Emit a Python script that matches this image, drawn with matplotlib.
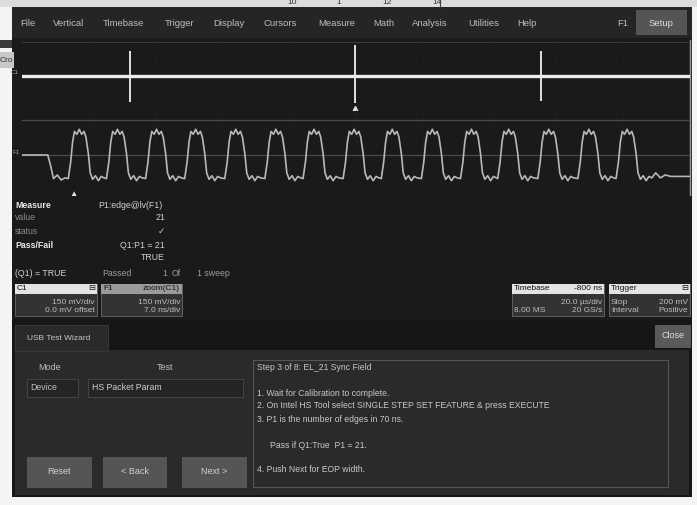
import matplotlib
matplotlib.use("Agg")
import matplotlib.pyplot as plt
from matplotlib.patches import Rectangle

plt.rcParams['font.family'] = ['Liberation Sans', 'DejaVu Sans']

#-------------------------------------------------------------------------------
# data
menu_items = ["File", "Vertical", "Timebase", "Trigger", "Display", "Cursors",
              "Measure", "Math", "Analysis", "Utilities", "Help"]

# C1: trace in divisions, spikes (glitches) at these times
c1_time_div   = [0.0, 10.0]
c1_level_div  = [0.0, 0.0]
c1_spike_div  = [1.62, 4.98, 7.77]
c1_spike_top  = [2.9, 3.6, 2.9]
c1_spike_bot  = [-3.1, -3.2, -2.9]

# F1 zoom(C1): USB HS sync field, time in ns, amplitude in mV
f1_lead   = [(0.0, 0), (2.7, 0), (3.0, -150), (3.3, -330), (3.7, -280),
             (4.1, -350), (4.5, -320)]
f1_pulse_centers = [6.1, 10.1, 14.2, 18.3, 22.5, 26.7, 30.7, 34.9, 38.9,
                    43.1, 47.2, 51.1, 55.3, 59.5, 63.5]
f1_pulse_shape = [(-1.25, -330), (-1.0, -100), (-0.8, 180), (-0.6, 330),
                  (-0.35, 290), (-0.1, 360), (0.15, 290), (0.4, 330),
                  (0.6, 250), (0.85, 20), (1.05, -250), (1.3, -340),
                  (1.6, -290), (1.9, -360), (2.2, -300), (2.5, -320)]
f1_tail   = [(66.4, -250), (66.9, -320), (67.4, -280), (68.0, -300), (70.0, -300)]

measure_rows = [("Measure", "P1:edge@lv(F1)"), ("value", "21"), ("status", "\u2713"),
                ("Pass/Fail", "Q1:P1 = 21"), ("", "TRUE")]
step_lines = ["Step 3 of 8: EL_21 Sync Field",
              "1. Wait for Calibration to complete.",
              "2. On Intel HS Tool select SINGLE STEP SET FEATURE & press EXECUTE",
              "3. P1 is the number of edges in 70 ns.",
              "Pass if Q1:True  P1 = 21.",
              "4. Push Next for EOP width."]
#-------------------------------------------------------------------------------

W, H = 697, 505
fig = plt.figure(figsize=(W / 100, H / 100), dpi=100)
fig.patch.set_facecolor('#f4f4f4')

bg = fig.add_axes([0, 0, 1, 1])
bg.set_xlim(0, W); bg.set_ylim(H, 0); bg.axis('off')

def box(x0, y0, x1, y1, fc, ec='none', lw=0.8, z=1):
    bg.add_patch(Rectangle((x0, y0), x1 - x0, y1 - y0, fc=fc, ec=ec, lw=lw, zorder=z))

def txt(x, y, s, c='#bdbdbd', size=6.3, ha='left', **kw):
    bg.text(x, y, s, color=c, fontsize=size, ha=ha, va='center', zorder=5, **kw)

# surroundings (scan of a page)
box(0, 0, W, 7, '#dcdcdc')
for s, x in zip(["10", "1", "12", "14"], [287, 336, 382, 432]):
    txt(x, 2.5, s, c='#303030', size=6)
bg.plot([440, 440], [0, 7], color='#404040', lw=0.8)
box(0, 40, 12, 48, '#3a3a3a', z=2)
box(0, 52, 14, 68, '#c8c8c8', z=2)
txt(0, 61, "Cro", c='#303030', size=6)

# screen
box(12, 7, 692, 497, '#1a1a1a')
box(12, 7, 692, 38, '#252525')
for s, x in zip(menu_items, [20, 53, 103, 165, 213, 263, 318, 373, 412, 468, 517]):
    txt(x, 23, s, size=6.8)
txt(617, 23, "F1", size=6.8)
box(636, 10, 687, 35, '#555555', z=2)
txt(661, 23, "Setup", c='#dddddd', size=6.8, ha='center')
bg.plot([690, 690], [40, 195], color='#9a9a9a', lw=1.0, zorder=3)

# measurement panel
for (lab, val), y in zip(measure_rows, [205, 218, 231, 245, 257]):
    bold = lab in ("Measure", "Pass/Fail")
    txt(15, y, lab, c='#e8e8e8' if bold else '#8a8a8a', weight='bold' if bold else 'normal')
    xv = 98 if lab == "Measure" else 165
    txt(xv, y, val, c='#d0d0d0', ha='left' if lab == "Measure" else 'right')
txt(15, 273, "(Q1) = TRUE", c='#d0d0d0')
txt(102, 273, "Passed", c='#9a9a9a')
txt(162, 273, "1", c='#9a9a9a')
txt(172, 273, "Of", c='#9a9a9a')
txt(197, 273, "1 sweep", c='#9a9a9a')
txt(73, 194, "\u25b2", c='#e0e0e0', size=6, ha='center')

# descriptor boxes
def descriptor(x0, x1, head_l, head_r, rows, head_fc):
    box(x0, 284, x1, 316, '#333333', ec='#6a6a6a', lw=0.6, z=2)
    box(x0, 284, x1, 294, head_fc, z=3)
    txt(x0 + 2, 289, head_l, c='#111111', size=6)
    txt(x1 - 2, 289, head_r, c='#111111', size=6, ha='right')
    for (l, r), y in zip(rows, [302, 311]):
        txt(x0 + 2, y, l, c='#bdbdbd', size=6)
        txt(x1 - 2, y, r, c='#bdbdbd', size=6, ha='right')

descriptor(15, 97, "C1", "\u229f", [("", "150 mV/div"), ("", "0.0 mV offset")], '#e4e4e4')
descriptor(101, 182, "F1", "zoom(C1)", [("", "150 mV/div"), ("", "7.0 ns/div")], '#9a9a9a')
descriptor(512, 604, "Timebase", "-800 ns", [("", "20.0 \u00b5s/div"), ("8.00 MS", "20 GS/s")], '#e4e4e4')
descriptor(609, 690, "Trigger", "\u229f", [("Stop", "200 mV"), ("Interval", "Positive")], '#e4e4e4')

# wizard panel
box(12, 320, 692, 497, '#161616')
box(15, 350, 689, 495, '#2a2a2a', z=2)
box(15, 325, 108, 351, '#2a2a2a', ec='#3c3c3c', lw=0.6, z=2)
txt(27, 338, "USB Test Wizard", c='#c8c8c8', size=6)
box(655, 325, 691, 348, '#5a5a5a', z=2)
txt(673, 336, "Close", c='#dddddd', size=6.5, ha='center')

txt(50, 368, "Mode", size=6.5, ha='center')
txt(165, 368, "Test", size=6.5, ha='center')
box(27, 379, 78, 397, '#242424', ec='#4a4a4a', lw=0.6, z=3)
txt(30, 388, "Device", size=6.3)
box(88, 379, 243, 397, '#242424', ec='#4a4a4a', lw=0.6, z=3)
txt(92, 388, "HS Packet Param", c='#d0d0d0', size=6.3)

for s, x0, x1 in [("Reset", 27, 92), ("< Back", 103, 167), ("Next >", 182, 247)]:
    box(x0, 457, x1, 488, '#555555', z=3)
    txt((x0 + x1) / 2, 472, s, c='#d0d0d0', size=6.5, ha='center')

box(253, 360, 668, 487, '#2a2a2a', ec='#555555', lw=0.8, z=3)
for s, x, y in zip(step_lines, [257, 257, 257, 257, 270, 257], [367, 393, 406, 419, 446, 469]):
    txt(x, y, s, c='#c8c8c8', size=6.2)

# ---- waveform grids -----------------------------------------------------------
def px_axes(x0, y0, x1, y1):
    a = fig.add_axes([x0 / W, 1 - y1 / H, (x1 - x0) / W, (y1 - y0) / H])
    a.set_facecolor('none')
    a.set_xticks([]); a.set_yticks([])
    for sp in a.spines.values():
        sp.set_visible(False)
    return a

ax1 = px_axes(22, 42, 690, 110)
ax1.set_xlim(0, 10); ax1.set_ylim(-4, 4)
for v in range(1, 10):
    ax1.axvline(v, color='#262626', lw=0.6, ls=':')
ax1.axhline(4, color='#3a3a3a', lw=0.8)
ax1.axhline(-4, color='#3a3a3a', lw=0.8)
ax1.plot(c1_time_div, c1_level_div, color='#ececec', lw=2.4, zorder=3)
ax1.vlines(c1_spike_div, c1_spike_bot, c1_spike_top, color='#f0f0f0', lw=1.3, zorder=4)
ax1.plot([c1_spike_div[1]], [-3.9], marker='^', color='#e0e0e0', ms=4, zorder=4)
ax1.text(-0.05, 0.4, "C1", color='#9a9a9a', fontsize=4.5, ha='right', va='center')

ax2 = px_axes(22, 110, 690, 190)
ax2.set_xlim(0, 70); ax2.set_ylim(-490, 630)
for v in range(1, 10):
    ax2.axvline(v * 7, color='#262626', lw=0.6, ls=':')
for hv in (0, 490):
    ax2.axhline(hv, color='#4a4a4a', lw=0.9)
ax2.axhline(-490, color='#3a3a3a', lw=0.8)

pts = list(f1_lead)
for c in f1_pulse_centers:
    pts += [(c + dt, v) for dt, v in f1_pulse_shape]
pts += f1_tail
ax2.plot([p[0] for p in pts], [p[1] for p in pts], color='#b8b8b8', lw=1.2, zorder=3)
ax2.text(-0.2, 40, "F1", color='#9a9a9a', fontsize=4.5, ha='right', va='center')

fig.savefig("out.png", dpi=100, facecolor=fig.get_facecolor())
